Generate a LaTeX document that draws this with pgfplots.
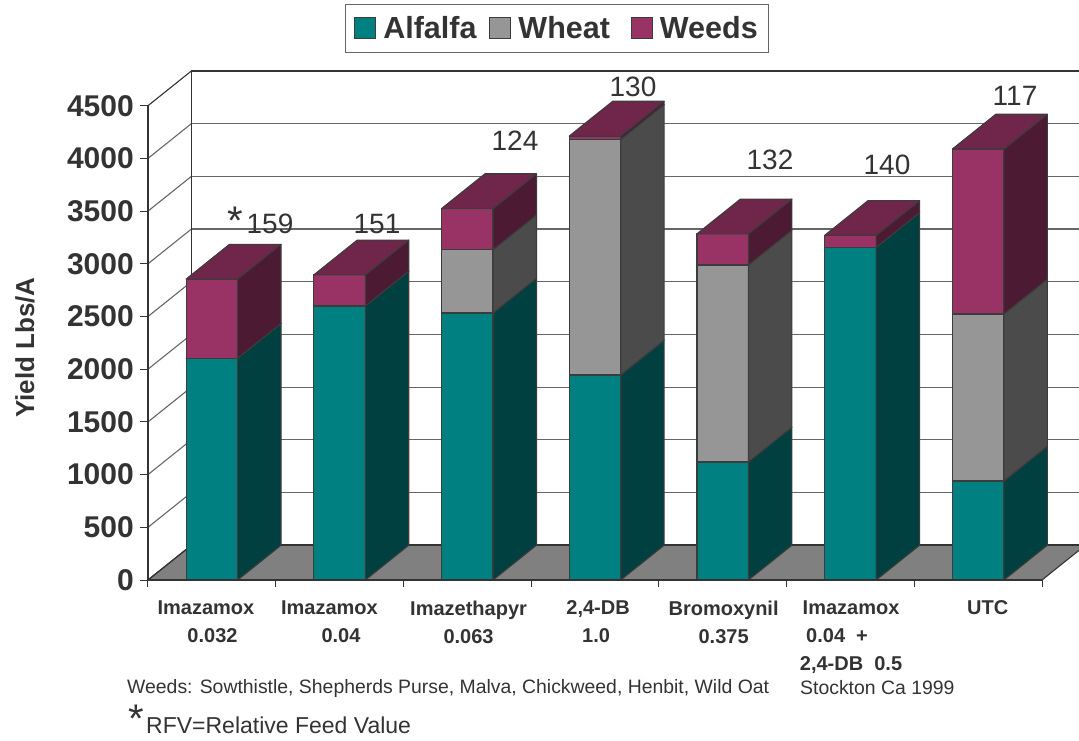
\documentclass[border=0pt]{standalone}
\usepackage{pgfplots}
\pgfplotsset{compat=1.18}
\usepackage{fontspec}
\setmainfont{Liberation Sans}

\definecolor{ink}{HTML}{333333}
\definecolor{edge}{HTML}{3C3C3C}
\definecolor{gridc}{HTML}{666666}
\definecolor{floorc}{HTML}{808080}
\definecolor{alfalfaF}{HTML}{008080}
\definecolor{alfalfaS}{HTML}{004040}
\definecolor{wheatF}{HTML}{969696}
\definecolor{wheatS}{HTML}{4B4B4B}
\definecolor{weedsF}{HTML}{993366}
\definecolor{weedsS}{HTML}{4C1A33}
\definecolor{weedsT}{HTML}{70264A}

% Depth of the 3-D box, in axis units
\def\depthx{0.34}
\def\depthy{330}
\def\halfw{0.2016}

\pgfplotsset{
  face/.style={draw=edge, line width=1.1pt, line join=round, mark=none, forget plot},
  wire/.style={draw=gridc, line width=1.1pt, mark=none, forget plot},
  wall/.style={draw=ink, line width=1.8pt, mark=none, forget plot},
}

% One stack segment: front and side face
\newcommand{\segment}[5]{%
  \pgfmathsetmacro\xl{#1-\halfw}\pgfmathsetmacro\xr{#1+\halfw}%
  \pgfmathsetmacro\xb{\xr+\depthx}%
  \pgfmathsetmacro\ylow{#2+\depthy}\pgfmathsetmacro\yhigh{#3+\depthy}%
  \edef\tmp{%
    \noexpand\addplot[face, fill=#4] coordinates {(\xl,#2)(\xr,#2)(\xr,#3)(\xl,#3)} -- cycle;
    \noexpand\addplot[face, fill=#5] coordinates {(\xr,#2)(\xb,\ylow)(\xb,\yhigh)(\xr,#3)} -- cycle;
  }\tmp}

% One stacked column: position, then alfalfa, wheat and weeds yields
\newcommand{\yieldbar}[4]{%
  \pgfmathsetmacro\ta{#2}\pgfmathsetmacro\tb{#2+#3}\pgfmathsetmacro\tc{#2+#3+#4}%
  \segment{#1}{0}{\ta}{alfalfaF}{alfalfaS}%
  \segment{#1}{\ta}{\tb}{wheatF}{wheatS}%
  \segment{#1}{\tb}{\tc}{weedsF}{weedsS}%
  \pgfmathsetmacro\xl{#1-\halfw}\pgfmathsetmacro\xr{#1+\halfw}%
  \pgfmathsetmacro\xlb{\xl+\depthx}\pgfmathsetmacro\xrb{\xr+\depthx}%
  \pgfmathsetmacro\tt{\tc+\depthy}%
  \edef\tmp{\noexpand\addplot[face, fill=weedsT] coordinates {(\xl,\tc)(\xr,\tc)(\xrb,\tt)(\xlb,\tt)} -- cycle;}\tmp}

% Rear wall grid line and the matching line on the side wall
\newcommand{\gridat}[1]{%
  \pgfmathsetmacro\yb{#1+\depthy}%
  \edef\tmp{%
    \noexpand\addplot[wire] coordinates {(-0.5,#1)(-0.16,\yb)};
    \noexpand\addplot[wire] coordinates {(-0.16,\yb)(6.84,\yb)};
  }\tmp}

\begin{document}
\begin{tikzpicture}[x=1pt,y=1pt,every node/.style={text=ink}]
\useasboundingbox (0,0) rectangle (1079,740);
\begin{axis}[
  at={(148pt,160pt)}, anchor=south west,
  scale only axis, width=894pt, height=474.3pt,
  clip=false, axis on top,
  xmin=-0.5, xmax=6.5, ymin=0, ymax=4500,
  axis x line*=bottom, axis y line*=left,
  axis line style={draw=ink, line width=1.2pt},
  tick align=outside, major tick length=8pt, minor tick length=7pt,
  tick style={draw=ink, line width=1pt},
  major x tick style={draw=none},
  ytick={0,500,...,4500},
  /pgf/number format/assume math mode=true,
  /pgf/number format/1000 sep={},
  yticklabel style={font=\fontsize{30}{30}\selectfont\bfseries, text=ink, inner sep=0pt, xshift=-6pt},
  minor xtick={-0.5,0.5,...,6.5},
  xtick={-0.046,0.921,2.010,3.024,4.007,5.005,6.075},
  xticklabels={
    {Imazamox\\\hspace*{13pt}0.032},
    {Imazamox\\\hspace*{23pt}0.04},
    {Imazethapyr\\0.063},
    {2,4-DB\\\hspace*{-4pt}1.0},
    {Bromoxynil\\0.375},
    {Imazamox\\\hspace*{-28pt}0.04~~+\\2,4-DB~~0.5},
    {UTC}},
  xticklabel style={font=\fontsize{20}{28}\selectfont\bfseries, text=ink, align=center, anchor=north, inner sep=0pt, yshift=-12.5pt},
  ylabel={Yield Lbs/A},
  every axis y label/.style={at={(axis description cs:-0.1376,0.49)}, rotate=90, anchor=center,
    font=\fontsize{26}{26}\selectfont\bfseries, text=ink},
  legend columns=3,
  legend style={at={(axis description cs:0.4575,1.1634)}, anchor=center, draw=gridc, line width=1pt,
    font=\fontsize{30.5}{32}\selectfont\bfseries, text=ink, inner xsep=9pt, inner ysep=10pt,
    /tikz/column 1/.style={column sep=5pt},
    /tikz/column 2/.style={column sep=11pt},
    /tikz/column 3/.style={column sep=5pt},
    /tikz/column 4/.style={column sep=19pt},
    /tikz/column 5/.style={column sep=5pt}},
  legend image code/.code={\draw[#1] (0pt,-10.5pt) rectangle (21pt,10.5pt);},
]
% Floor of the box
\addplot[fill=floorc, draw=ink, line width=1.1pt, mark=none, forget plot]
  coordinates {(-0.5,0)(6.5,0)(6.84,330)(-0.16,330)} -- cycle;

% Grid on the rear and side walls
\gridat{500}\gridat{1000}\gridat{1500}\gridat{2000}
\gridat{2500}\gridat{3000}\gridat{3500}\gridat{4000}

% Outer edges of the box
\addplot[wire, draw=ink] coordinates {(-0.5,0)(-0.16,330)};
\addplot[wall] coordinates {(-0.16,330)(6.84,330)};
\addplot[wire, draw=ink] coordinates {(-0.5,4500)(-0.16,4830)};
\addplot[wall] coordinates {(-0.16,330)(-0.16,4830)(6.84,4830)};

% Columns: position, alfalfa, wheat, weeds
\yieldbar{0}{2105}{0}{750}
\yieldbar{1}{2600}{0}{295}
\yieldbar{2}{2533}{601}{390}
\yieldbar{3}{1945}{2236}{31}
\yieldbar{4}{1120}{1869}{295}
\yieldbar{5}{3156}{0}{114}
\yieldbar{6}{939}{1585}{1565}

\addlegendimage{fill=alfalfaF, draw=edge, line width=1pt}
\addlegendentry{Alfalfa}
\addlegendimage{fill=wheatF, draw=edge, line width=1pt}
\addlegendentry{Wheat}
\addlegendimage{fill=weedsF, draw=edge, line width=1pt}
\addlegendentry{Weeds}
\end{axis}

% Relative feed value above each column
\def\rfv#1#2#3{\node[font=\fontsize{28}{28}\selectfont, inner sep=0pt] at (#1,{740-#2}) {#3};}
\rfv{270}{224}{159}
\rfv{377}{224}{151}
\rfv{515}{141}{124}
\rfv{633}{87}{130}
\rfv{770}{160}{132}
\rfv{887}{165}{140}
\rfv{1015}{96}{117}
\node[font=\fontsize{40}{40}\selectfont, inner sep=0pt] at (235,{740-221}) {*};

% Notes under the chart
\node[font=\fontsize{19.4}{20}\selectfont, anchor=west, inner sep=0pt] at (127,{740-688})
  {Weeds: Sowthistle, Shepherds Purse, Malva, Chickweed, Henbit, Wild Oat};
\node[font=\fontsize{19.4}{20}\selectfont, anchor=west, inner sep=0pt] at (800,{740-688}) {Stockton Ca 1999};
\node[font=\fontsize{23}{23}\selectfont, anchor=west, inner sep=0pt] at (146,{740-725}) {RFV=Relative Feed Value};
\node[font=\fontsize{40}{40}\selectfont, inner sep=0pt] at (136,{740-719}) {*};
\end{tikzpicture}
\end{document}
